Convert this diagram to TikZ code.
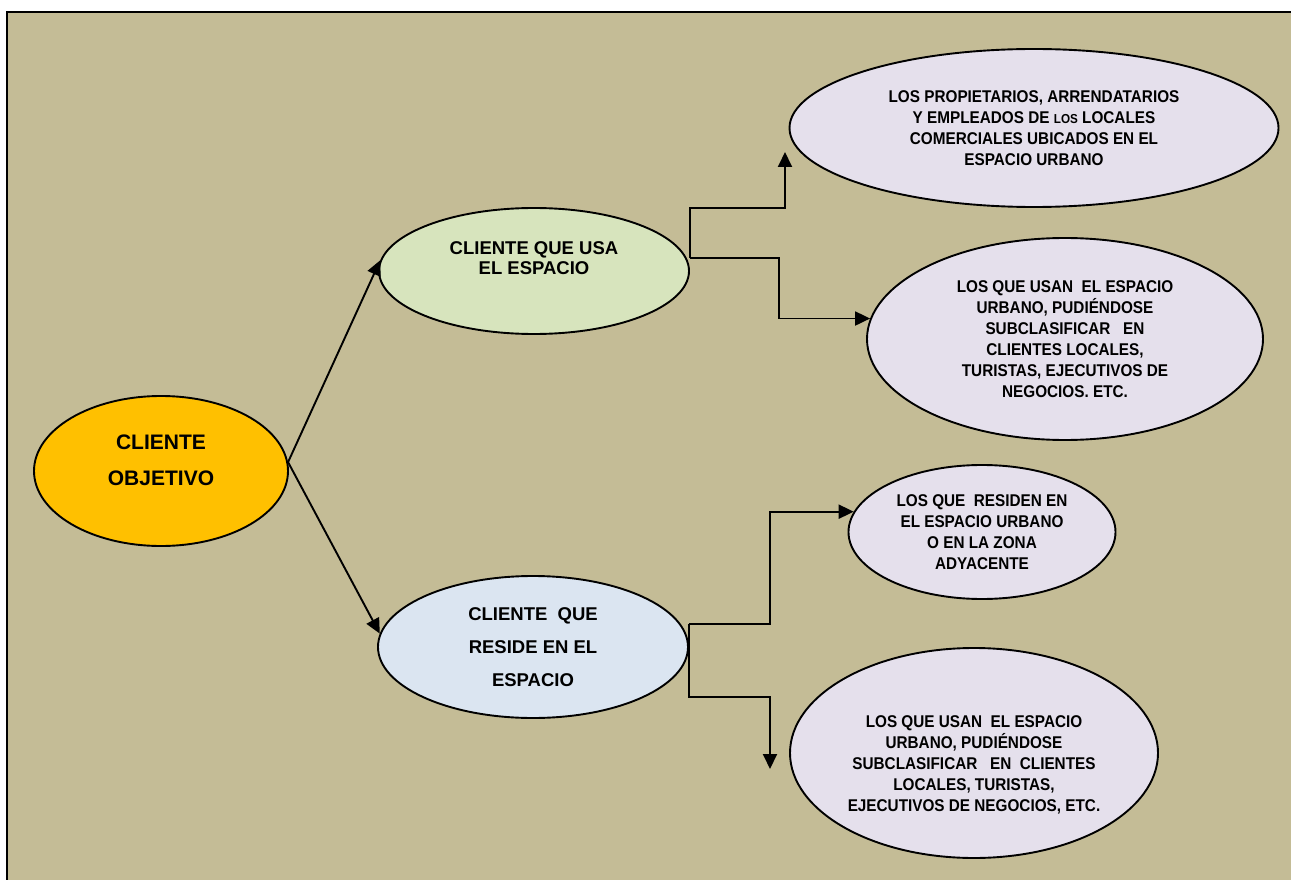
\documentclass[tikz,border=0pt]{standalone}
\usepackage{fontspec}
\setmainfont{Liberation Sans}
\newfontfamily\narrowsans[FakeStretch=0.9]{Liberation Sans}
\usetikzlibrary{shapes.geometric, arrows.meta}

\definecolor{khaki}{HTML}{C4BC96}
\definecolor{gold}{HTML}{FFC000}
\definecolor{sage}{HTML}{D7E4BD}
\definecolor{pale}{HTML}{DBE5F1}
\definecolor{lilac}{HTML}{E5E0EC}

\begin{document}
\begin{tikzpicture}[x=1pt, y=-1pt, >={Triangle[length=15pt, width=14pt]}, line width=1.9pt,
  bubble/.style={ellipse, draw, line width=1.9pt, inner sep=0pt, align=center},
  bigtext/.style={font={\bfseries\fontsize{18.5}{20}\selectfont}},
  smalltext/.style={font={\narrowsans\bfseries\fontsize{17}{21}\selectfont}}]

  \useasboundingbox (0,0) rectangle (1291,880);
  \fill[khaki] (7,12) rectangle (1291,880);
  \draw[line width=2.2pt] (7,880) -- (7,12) -- (1291,12);

  \node[bubble, fill=gold, minimum width=254pt, minimum height=150pt, font={\bfseries\fontsize{21}{36}\selectfont}] (obj) at (161,471) {CLIENTE\\OBJETIVO\\[-14pt]\mbox{}};
  \node[bubble, bigtext, fill=sage, minimum width=310pt, minimum height=126pt] (usa) at (534,271) {CLIENTE QUE USA\\EL ESPACIO\\[6pt]\mbox{}};
  \node[bubble, fill=pale, minimum width=310pt, minimum height=142pt, font={\bfseries\fontsize{18.5}{33}\selectfont}] (res) at (533,647) {CLIENTE~ QUE\\RESIDE EN EL\\ESPACIO};

  \node[bubble, smalltext, fill=lilac, minimum width=489pt, minimum height=158pt] (prop) at (1034,128) {LOS PROPIETARIOS, ARRENDATARIOS\\Y EMPLEADOS DE {\fontsize{13}{21}\selectfont LOS} LOCALES\\COMERCIALES UBICADOS EN EL\\ESPACIO URBANO};
  \node[bubble, smalltext, fill=lilac, minimum width=396pt, minimum height=202pt] (usan) at (1065,339) {LOS QUE USAN~ EL ESPACIO\\URBANO, PUDIÉNDOSE\\SUBCLASIFICAR~~ EN\\CLIENTES LOCALES,\\TURISTAS, EJECUTIVOS DE\\NEGOCIOS. ETC.};
  \node[bubble, smalltext, fill=lilac, minimum width=267pt, minimum height=134pt] (resid) at (982,532) {LOS QUE~ RESIDEN EN\\EL ESPACIO URBANO\\O EN LA ZONA\\ADYACENTE};
  \node[bubble, smalltext, fill=lilac, minimum width=368pt, minimum height=210pt] (usan2) at (974,753) {\mbox{}\\[15pt]LOS QUE USAN~ EL ESPACIO\\URBANO, PUDIÉNDOSE\\SUBCLASIFICAR~~ EN~ CLIENTES\\LOCALES, TURISTAS,\\EJECUTIVOS DE NEGOCIOS, ETC.};

  % elbow start points and free arrow ends
  \coordinate (usaout) at ([yshift=13pt]usa.east);
  \coordinate (resout) at ([yshift=23pt]res.east);
  \coordinate (proptip) at (785,152);
  \coordinate (usan2tip) at (770,769);

  \draw[->] (obj.4) -- (usa.176);
  \draw[->] (obj.4) -- (res.175);
  \draw[->] (usaout) -- ++(0,-50) -| (proptip);
  \draw[->] (usaout) -- ++(89,0) |- (usan.174);
  \draw[->] (resout) -- ++(81,0) |- (resid.171);
  \draw[->] (resout) -- ++(0,73) -| (usan2tip);

\end{tikzpicture}
\end{document}
